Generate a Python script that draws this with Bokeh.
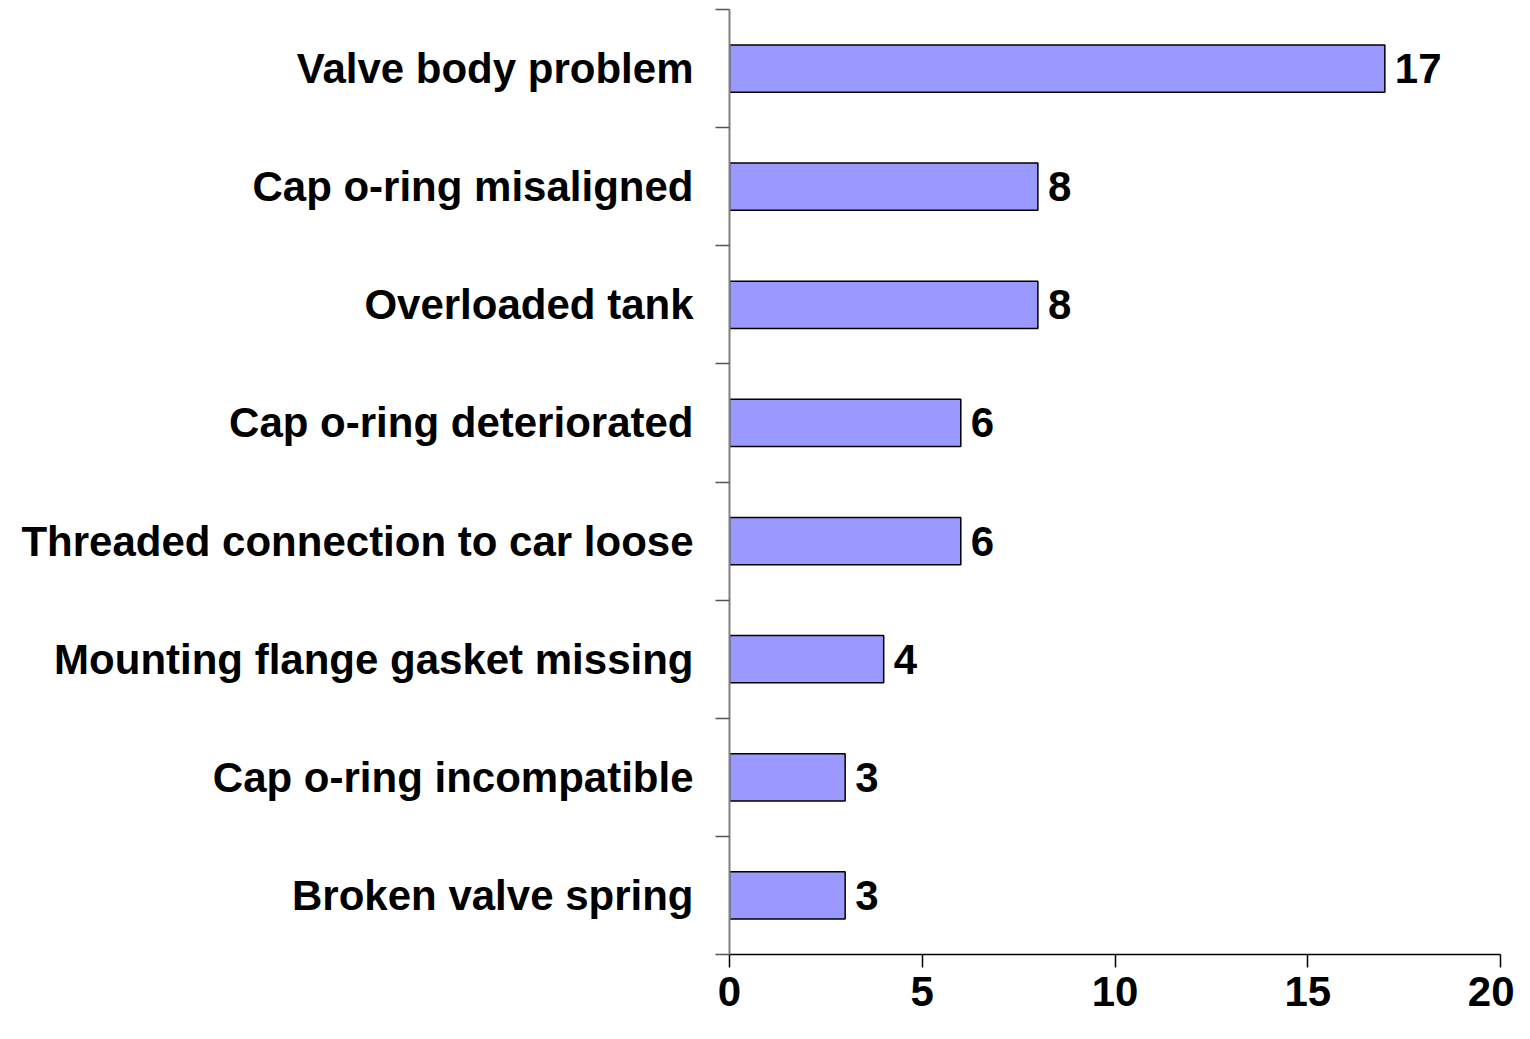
from bokeh.plotting import figure
from bokeh.models import ColumnDataSource, FixedTicker, Range1d
from bokeh.core.properties import value
from bokeh.embed import file_html
from bokeh.resources import INLINE

# Data (bottom to top)
categories = ["Broken valve spring", "Cap o-ring incompatible", "Mounting flange gasket missing",
              "Threaded connection to car loose", "Cap o-ring deteriorated", "Overloaded tank",
              "Cap o-ring misaligned", "Valve body problem"]
counts = [3, 3, 4, 6, 6, 8, 8, 17]
x_ticks = [0, 5, 10, 15, 20]

ypos = [i + 0.5 for i in range(len(categories))]
src = ColumnDataSource(dict(y=ypos, v=counts, lab=[str(c) for c in counts]))

p = figure(width=1514, height=1023, output_backend="svg", toolbar_location=None,
           x_range=Range1d(0, 20), y_range=Range1d(0, len(categories)),
           min_border_left=729, min_border_right=14, min_border_top=9, min_border_bottom=69)
p.outline_line_color = None
p.xgrid.visible = False
p.ygrid.visible = False

p.hbar(y="y", right="v", left=0, height=0.4, source=src,
       fill_color="#9999FF", line_color="black", line_width=1.5)
p.text(x="v", y="y", text="lab", source=src, x_offset=10,
       text_font=value("Liberation Sans"), text_font_style="bold",
       text_font_size="42px", text_baseline="middle", text_align="left", text_color="black")

# x axis
xa = p.xaxis[0]
xa.ticker = FixedTicker(ticks=x_ticks, minor_ticks=[])
xa.axis_line_color = "black"
xa.axis_line_width = 1.5
xa.major_tick_out = 13
xa.major_tick_in = 0
xa.major_tick_line_color = "black"
xa.major_tick_line_width = 1.5
xa.minor_tick_line_color = None
xa.major_label_standoff = 9
xa.major_label_text_font = "Liberation Sans"
xa.major_label_text_font_style = "bold"
xa.major_label_text_font_size = "42px"
xa.major_label_text_color = "black"

# y axis
ya = p.yaxis[0]
ya.ticker = FixedTicker(ticks=ypos, minor_ticks=list(range(len(categories) + 1)))
ya.major_label_overrides = {y: c for y, c in zip(ypos, categories)}
ya.axis_line_color = "#808080"
ya.axis_line_width = 2
ya.major_tick_out = 0
ya.major_tick_in = 0
ya.minor_tick_out = 14
ya.minor_tick_in = 0
ya.minor_tick_line_color = "#555555"
ya.minor_tick_line_width = 1.5
ya.major_label_standoff = 22
ya.major_label_text_font = "Liberation Sans"
ya.major_label_text_font_style = "bold"
ya.major_label_text_font_size = "42px"
ya.major_label_text_color = "black"

open("out.html", "w").write(file_html(p, INLINE))
